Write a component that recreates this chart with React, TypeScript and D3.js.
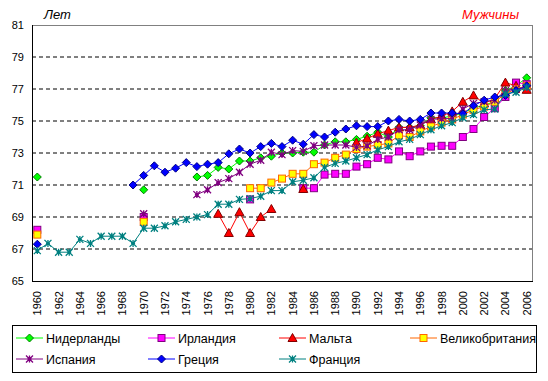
import React from "react";
import * as d3 from "d3";

const years: number[] = d3.range(1960, 2007);
const yTicks: number[] = [65, 67, 69, 71, 73, 75, 77, 79, 81];
const xTickYears: number[] = d3.range(1960, 2007, 2);

type V = number | null;
const _ = null;

// 1960 .. 2006
const netherlands: V[] = [71.5, _, _, _, _, _, _, _, _, _, 70.7, _, _, _, _, 71.5, 71.6, 72.1, 72.0, 72.5, 72.5, 72.7, 72.8, 73.0, 73.0, 73.05, 73.05, 73.5, 73.7, 73.7, 73.85, 74.05, 74.3, 74.0, 74.6, 74.6, 74.7, 75.2, 75.2, 75.3, 75.5, 75.8, 76.0, 76.2, 76.9, 77.2, 77.7];
const ireland: V[] = [68.2, _, _, _, _, _, _, _, _, _, 69.0, _, _, _, _, _, _, _, _, _, 70.1, _, _, _, _, 70.8, 70.8, 71.65, 71.7, 71.7, 72.15, 72.3, 72.7, 72.6, 73.1, 72.8, 73.1, 73.4, 73.45, 73.45, 74.0, 74.5, 75.25, 75.8, 76.5, 77.4, 77.3];
const malta: V[] = [_, _, _, _, _, _, _, _, _, _, _, _, _, _, _, _, _, 69.2, 68.0, 69.3, 68.0, 69.0, 69.5, _, _, 70.75, _, _, _, _, 73.65, 73.9, 74.2, 74.4, 74.6, 74.6, 74.75, 75.1, 75.3, 75.6, 76.2, 76.6, 76.1, 76.4, 77.4, 77.2, 76.95];
const uk: V[] = [67.9, _, _, _, _, _, _, _, _, _, 68.7, _, _, _, _, _, _, _, _, _, 70.8, 70.8, 71.15, 71.4, 71.7, 71.7, 72.3, 72.4, 72.7, 72.9, 73.25, 73.4, 73.5, 73.6, 74.1, 74.0, 74.35, 74.65, 74.9, 75.1, 75.4, 75.7, 75.9, 76.2, 76.7, 77.0, 77.2];
const spain: V[] = [_, _, _, _, _, _, _, _, _, _, 69.2, _, _, _, _, 70.4, 70.7, 71.15, 71.4, 71.8, 72.3, 72.55, 73.05, 72.9, 73.15, 73.1, 73.45, 73.5, 73.5, 73.5, 73.35, 73.45, 73.85, 74.0, 74.45, 74.45, 74.75, 75.1, 75.15, 75.15, 75.75, 76.1, 76.2, 76.3, 76.9, 77.0, 77.1];
const greece: V[] = [67.3, _, _, _, _, _, _, _, _, 71.0, 71.6, 72.2, 71.8, 72.05, 72.4, 72.15, 72.3, 72.4, 72.95, 73.25, 73.0, 73.4, 73.6, 73.4, 73.8, 73.55, 74.15, 74.0, 74.3, 74.5, 74.7, 74.65, 74.65, 75.0, 75.1, 75.0, 75.1, 75.5, 75.5, 75.5, 75.45, 75.95, 76.3, 76.5, 76.6, 76.9, 77.2];
const france: V[] = [66.9, 67.35, 66.8, 66.8, 67.6, 67.35, 67.8, 67.8, 67.8, 67.35, 68.3, 68.3, 68.45, 68.7, 68.85, 69.0, 69.15, 69.8, 69.8, 70.1, 70.15, 70.3, 70.65, 70.65, 71.2, 71.3, 71.45, 72.1, 72.35, 72.5, 72.7, 72.9, 73.2, 73.4, 73.7, 73.85, 74.15, 74.45, 74.7, 74.9, 75.2, 75.4, 75.7, 75.75, 76.7, 76.8, 77.1];

const seriesNames: string[] = ["Нидерланды", "Ирландия", "Мальта", "Великобритания", "Испания", "Греция", "Франция"];

type Marker = "diamond" | "square" | "triangle" | "star";
interface Style { line: string; fill: string; stroke: string; marker: Marker; }
const styles: Style[] = [
  { line: "#00FF00", fill: "#00FF00", stroke: "#008000", marker: "diamond" },
  { line: "#FF00FF", fill: "#FF00FF", stroke: "#800080", marker: "square" },
  { line: "#FF0000", fill: "#FF0000", stroke: "#800000", marker: "triangle" },
  { line: "#FF6600", fill: "#FFFF00", stroke: "#FF6600", marker: "square" },
  { line: "#800080", fill: "none", stroke: "#800080", marker: "star" },
  { line: "#0000FF", fill: "#0000FF", stroke: "#000080", marker: "diamond" },
  { line: "#008080", fill: "none", stroke: "#008080", marker: "star" },
];
const seriesData: V[][] = [netherlands, ireland, malta, uk, spain, greece, france];

const FONT = "'Liberation Sans', Arial, sans-serif";

function MarkerShape({ x, y, s }: { x: number; y: number; s: Style }) {
  if (s.marker === "diamond") {
    const r = 4;
    return <path d={`M${x},${y - r}L${x + r},${y}L${x},${y + r}L${x - r},${y}Z`} fill={s.fill} stroke={s.stroke} strokeWidth={1} />;
  }
  if (s.marker === "square") {
    const r = 3.5;
    return <rect x={x - r} y={y - r} width={2 * r} height={2 * r} fill={s.fill} stroke={s.stroke} strokeWidth={1} />;
  }
  if (s.marker === "triangle") {
    const r = 4.5;
    return <path d={`M${x},${y - r}L${x + r},${y + r - 1}L${x - r},${y + r - 1}Z`} fill={s.fill} stroke={s.stroke} strokeWidth={1} />;
  }
  const r = 3.5;
  return (
    <path
      d={`M${x},${y - r}L${x},${y + r}M${x - r},${y - r}L${x + r},${y + r}M${x - r},${y + r}L${x + r},${y - r}M${x - 2},${y}L${x + 2},${y}`}
      stroke={s.stroke}
      strokeWidth={1.3}
      fill="none"
    />
  );
}

export default function App() {
  const W = 548, H = 381;
  const left = 32, right = 532, top = 25, bottom = 281;
  const x = d3.scaleBand<number>().domain(years).range([left, right]);
  const bw = x.bandwidth();
  const cx = (yr: number) => (x(yr) as number) + bw / 2;
  const y = d3.scaleLinear().domain([65, 81]).range([bottom, top]);

  const line = d3
    .line<{ yr: number; v: V }>()
    .defined((d) => d.v != null)
    .x((d) => cx(d.yr))
    .y((d) => y(d.v as number));

  const legendCols = [16, 148, 279, 410];
  const legendRows = [338, 359];

  return (
    <svg width={W} height={H} style={{ position: "absolute", left: 0, top: 0, background: "#fff" }} fontFamily={FONT}>
      <rect x={0} y={0} width={W} height={H} fill="#fff" />
      {/* titles */}
      <text x={44} y={19} fontSize={13} fontStyle="italic" fill="#000">Лет</text>
      <text x={519} y={19} fontSize={13} fontStyle="italic" fill="#FF0000" textAnchor="end">Мужчины</text>

      {/* grid */}
      {yTicks.filter((t) => t > 65 && t < 81).map((t) => (
        <line key={t} x1={left} x2={right} y1={y(t)} y2={y(t)} stroke="#000" strokeWidth={1} strokeDasharray="4,3" />
      ))}
      {/* frame */}
      <line x1={left} x2={right} y1={top + 0.5} y2={top + 0.5} stroke="#808080" />
      <line x1={right + 0.5} x2={right + 0.5} y1={top} y2={bottom} stroke="#808080" />
      <line x1={left + 0.5} x2={left + 0.5} y1={top} y2={bottom + 0.5} stroke="#000" />
      <line x1={left} x2={right + 1} y1={bottom + 0.5} y2={bottom + 0.5} stroke="#000" />

      {/* y labels */}
      {yTicks.map((t) => (
        <text key={t} x={24} y={y(t) + 4} fontSize={11} textAnchor="end" fill="#000">{t}</text>
      ))}
      {/* x labels */}
      {xTickYears.map((yr) => (
        <text key={yr} transform={`translate(${cx(yr) + 4},291) rotate(-90)`} fontSize={11} textAnchor="end" fill="#000">{yr}</text>
      ))}

      {/* series */}
      {seriesData.map((data, i) => {
        const pts = years.map((yr, k) => ({ yr, v: data[k] }));
        const s = styles[i];
        return (
          <g key={i}>
            <path d={line(pts) || ""} fill="none" stroke={s.line} strokeWidth={1} />
            {pts.filter((p) => p.v != null).map((p) => (
              <MarkerShape key={p.yr} x={cx(p.yr)} y={y(p.v as number)} s={s} />
            ))}
          </g>
        );
      })}

      {/* legend */}
      <rect x={12.5} y={325.5} width={524} height={47} fill="#fff" stroke="#000" strokeWidth={1} />
      {seriesNames.map((name, i) => {
        const col = i < 4 ? i : i - 4;
        const row = i < 4 ? 0 : 1;
        const lx = legendCols[col];
        const ly = legendRows[row];
        const s = styles[i];
        return (
          <g key={name}>
            <line x1={lx} x2={lx + 27} y1={ly} y2={ly} stroke={s.line} strokeWidth={1} />
            <MarkerShape x={lx + 13.5} y={ly} s={s} />
            <text x={lx + 30} y={ly + 4.5} fontSize={12.5} fill="#000">{name}</text>
          </g>
        );
      })}
    </svg>
  );
}
